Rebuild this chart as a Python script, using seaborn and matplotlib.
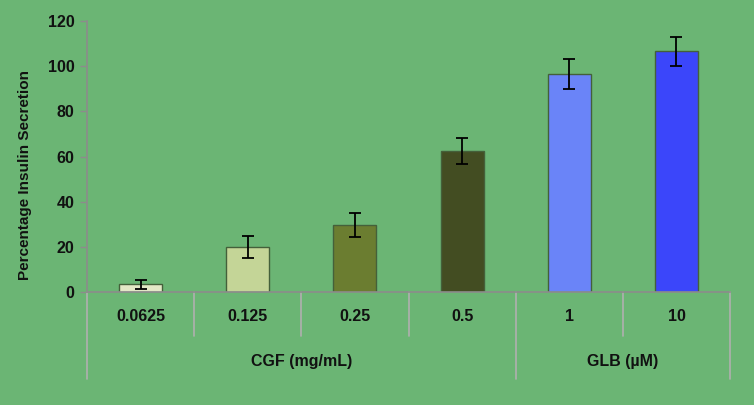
import matplotlib
matplotlib.use("Agg")
import matplotlib.pyplot as plt
import matplotlib.transforms as mtransforms
import seaborn as sns
import pandas as pd

# data
doses = ["0.0625", "0.125", "0.25", "0.5", "1", "10"]
secretion = [3.5, 20, 29.5, 62.3, 96.6, 106.6]
sd_err = [2.0, 5.0, 5.3, 5.7, 6.7, 6.5]
groups = ["CGF (mg/mL)", "GLB (µM)"]
group_sizes = [4, 2]
bar_colors = ["#E3E8C6", "#C4D597", "#6B7D30", "#434D22", "#6A84F8", "#3B46FA"]

bg = "#6BB574"

sns.set_theme(style="white")
plt.rcParams["font.family"] = ["Liberation Sans", "DejaVu Sans"]

df = pd.DataFrame({"dose": doses, "secretion": secretion})

fig = plt.figure(figsize=(7.54, 4.05), dpi=100, facecolor=bg)
ax = fig.add_axes([0.1154, 0.279, 0.8528, 0.669])
ax.set_facecolor(bg)

sns.barplot(
    data=df, x="dose", y="secretion", hue="dose", palette=bar_colors,
    saturation=1, width=0.4, edgecolor="#44603A", linewidth=1.0,
    legend=False, ax=ax, errorbar=None,
)
ax.errorbar(range(len(doses)), secretion, yerr=sd_err, fmt="none",
            ecolor="black", elinewidth=1.3, capsize=4, capthick=1.3)

ax.set_xlim(-0.5, len(doses) - 0.5)
ax.set_ylim(0, 120)
ax.set_yticks(range(0, 121, 20))
ax.tick_params(axis="y", labelsize=11.5, length=5, width=1, color="#8C8C8C",
               left=True, pad=4)
for lbl in ax.get_yticklabels():
    lbl.set_fontweight("bold")
    lbl.set_color("#111111")
ax.set_ylabel("Percentage Insulin Secretion", fontsize=11, fontweight="bold",
              color="#111111")
ax.yaxis.set_label_coords(-0.086, 0.43)
ax.set_xlabel("")
ax.set_xticks([])

for side in ["top", "right"]:
    ax.spines[side].set_visible(False)
for side in ["left", "bottom"]:
    ax.spines[side].set_color("#8C8C8C")
    ax.spines[side].set_linewidth(1.2)

# multi-level category axis
trans = mtransforms.blended_transform_factory(ax.transData, ax.transAxes)
group_edges = [-0.5]
for n in group_sizes:
    group_edges.append(group_edges[-1] + n)
for i in range(len(doses) + 1):
    xb = i - 0.5
    ybot = -0.321 if xb in group_edges else -0.162
    ax.plot([xb, xb], [0, ybot], transform=trans, color="#B0B0B0", lw=1.2,
            clip_on=False)
for i, d in enumerate(doses):
    ax.text(i, -0.092, d, transform=trans, ha="center", va="center",
            fontsize=11.5, fontweight="bold", color="#111111")
for g, a, b in zip(groups, group_edges[:-1], group_edges[1:]):
    ax.text((a + b) / 2, -0.258, g, transform=trans, ha="center", va="center",
            fontsize=11.5, fontweight="bold", color="#111111")

fig.savefig("out.png", dpi=100, facecolor=bg)
